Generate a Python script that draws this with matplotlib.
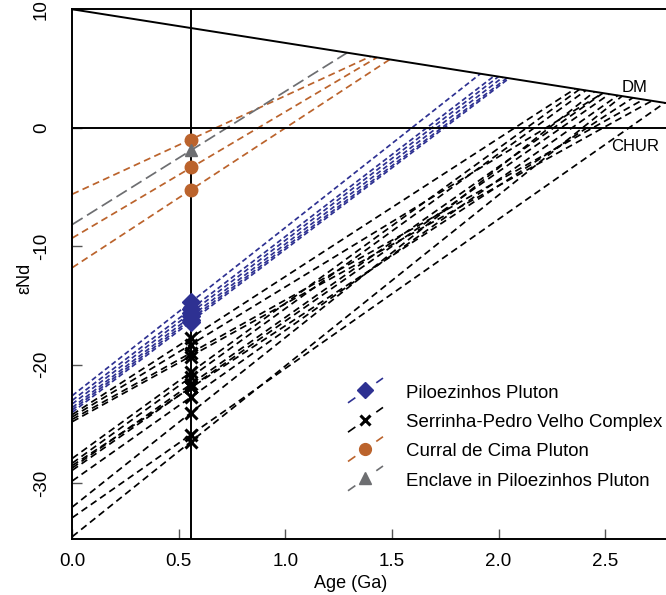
import numpy as np
import matplotlib.pyplot as plt
from matplotlib.lines import Line2D
from matplotlib.legend_handler import HandlerBase

plt.rcParams['font.family'] = ['Liberation Sans', 'DejaVu Sans']

# idade de cristalização (Ga)
t_cryst = 0.556

# manto empobrecido (DM), linear
dm_age = [0.0, 2.8]
dm_eps = [10.0, 2.05]

# Piloezinhos Pluton: eNd(0), T_DM, eNd(t)
pil_e0 = [-22.6, -23.0, -23.3, -23.6, -23.8, -24.0]
pil_tdm = [1.915, 1.98, 2.00, 2.02, 2.04, 2.05]
pil_et = [-14.7, -15.3, -15.6, -15.9, -16.2, -16.35]

# Serrinha-Pedro Velho Complex
ser_e0 = [-24.2, -24.4, -24.6, -24.8, -27.9, -28.3, -28.7, -28.9, -28.5, -29.8, -32.0, -32.9, -34.5]
ser_tdm = [2.36, 2.49, 2.68, 2.72, 2.38, 2.41, 2.49, 2.52, 2.63, 2.56, 2.45, 2.78, 2.58]
ser_et = [-17.7, -18.3, -19.0, -19.3, -20.6, -21.0, -21.6, -21.9, -21.9, -22.7, -24.05, -25.9, -26.5]

# Curral de Cima Pluton
cur_e0 = [-5.6, -9.3, -11.8]
cur_tdm = [1.40, 1.43, 1.49]
cur_et = [-1.0, -3.3, -5.25]

# Enclave in Piloezinhos Pluton
enc_e0 = [-8.16]
enc_tdm = [1.29]
enc_et = [-1.9]

groups = [
    ('Piloezinhos Pluton', pil_e0, pil_tdm, pil_et, '#2e3192', 'D', (0, (3, 1.8))),
    ('Serrinha-Pedro Velho Complex', ser_e0, ser_tdm, ser_et, 'black', 'x', (0, (4, 2.5))),
    ('Curral de Cima Pluton', cur_e0, cur_tdm, cur_et, '#bb632c', 'o', (0, (4, 2.5))),
    ('Enclave in Piloezinhos Pluton', enc_e0, enc_tdm, enc_et, '#6d6e71', '^', (0, (7, 3))),
]


class DiagHandler(HandlerBase):
    # linha tracejada diagonal atrás do símbolo
    def create_artists(self, legend, orig, xd, yd, width, height, fontsize, trans):
        c = orig.get_color()
        ln = Line2D([0, width], [-0.37 * height, 1.37 * height], color=c,
                    lw=1.2, linestyle=(0, (5.4, 15.4)))
        mk = Line2D([width / 2], [height / 2], color=c, marker=orig.get_marker(),
                    markersize=orig.get_markersize(), markeredgewidth=orig.get_markeredgewidth(),
                    linestyle='none')
        ln.set_transform(trans)
        mk.set_transform(trans)
        return [ln, mk]


fig = plt.figure(figsize=(6.66, 5.95), dpi=100)
ax = fig.add_axes([72.3 / 666, 56 / 595, 1 - 72.3 / 666, 529.7 / 595])

ax.plot(dm_age, dm_eps, color='black', lw=1.4, zorder=3)
ax.axhline(0, color='black', lw=1.4, zorder=3)
ax.axvline(t_cryst, color='black', lw=1.4, zorder=3)

handles = []
for name, e0, tdm, et, col, mk, ls in groups:
    for i in range(len(e0)):
        y_end = np.interp(tdm[i], dm_age, dm_eps)
        ax.plot([0, tdm[i]], [e0[i], y_end], color=col, lw=1.25, linestyle=ls, zorder=2)
    ms = 8 if mk == 'x' else 9
    mew = 2.2 if mk == 'x' else 1
    ax.plot([t_cryst] * len(et), et, linestyle='none', marker=mk, color=col,
            markersize=ms, markeredgewidth=mew, zorder=4)
    handles.append(Line2D([], [], color=col, marker=mk, markersize=ms - 0.5,
                          markeredgewidth=mew, linestyle='none', label=name))

ax.text(2.64, 3.4, 'DM', fontsize=12, ha='center', va='center')
ax.text(2.64, -1.6, 'CHUR', fontsize=12, ha='center', va='center')

ax.set_xlim(0, 2.786)
ax.set_ylim(-34.7, 10)
ax.set_xticks([0, 0.5, 1.0, 1.5, 2.0, 2.5])
ax.set_xticklabels(['0.0', '0.5', '1.0', '1.5', '2.0', '2.5'])
ax.set_yticks([-30, -20, -10, 0, 10])
ax.set_yticklabels(['-30', '-20', '-10', '0', '10'])
ax.tick_params(axis='both', direction='in', length=7, width=1, labelsize=13.5, color='#555555')
ax.tick_params(axis='x', pad=10)
ax.tick_params(axis='y', pad=16)
for lab in ax.get_yticklabels():
    lab.set_rotation(90)
    lab.set_va('center')

ax.spines['right'].set_visible(False)
for s in ['left', 'top', 'bottom']:
    ax.spines[s].set_linewidth(1.4)

ax.set_xlabel('Age (Ga)', fontsize=13)
ax.set_ylabel('εNd', fontsize=13)
ax.xaxis.set_label_coords((351 - 72.3) / 593.7, -(583 - 539) / 529.7)
ax.yaxis.set_label_coords(-(72.3 - 25) / 593.7, (539 - 278) / 529.7)
ax.xaxis.label.set_va('center')
ax.yaxis.label.set_va('center')

ax.legend(handles=handles, handler_map={Line2D: DiagHandler()}, frameon=False,
          loc='upper left', bbox_to_anchor=(348 / 666, 1 - 384 / 595),
          bbox_transform=fig.transFigure, fontsize=13.4, handlelength=1.88,
          handleheight=0.8, labelspacing=0.63, handletextpad=1.25, borderpad=0,
          borderaxespad=0)

fig.savefig('out.png', dpi=100)
